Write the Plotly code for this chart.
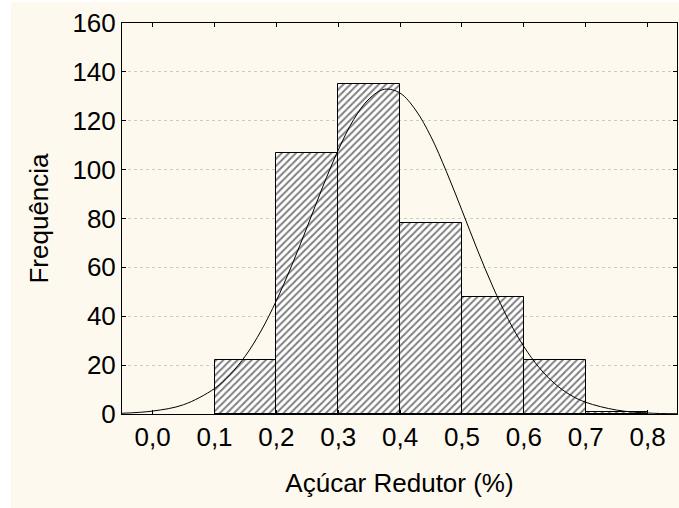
import plotly.graph_objects as go

# Histogram bins (class midpoints) and frequencies
bin_centers = [0.15, 0.25, 0.35, 0.45, 0.55, 0.65, 0.75]
frequencies = [22, 107, 135, 78, 48, 22, 1]
bin_width = 0.1

# Fitted normal curve
curve_x = [-0.05, 0.0, 0.05, 0.10, 0.125, 0.15, 0.175, 0.20, 0.225, 0.25, 0.275,
           0.30, 0.325, 0.35, 0.375, 0.40, 0.425, 0.45, 0.475, 0.50, 0.525,
           0.55, 0.575, 0.60, 0.625, 0.65, 0.675, 0.70, 0.75, 0.80, 0.85]
curve_y = [0.3, 1.2, 3.8, 10.4, 16.1, 23.8, 33.9, 46.4, 60.9, 76.7, 93.0,
           108.0, 120.5, 129.0, 132.9, 131.3, 124.4, 113.4, 99.1, 83.3, 67.1,
           52.0, 38.6, 27.6, 18.9, 12.4, 7.8, 4.8, 1.6, 0.4, 0.1]

x_tickvals = [0.0, 0.1, 0.2, 0.3, 0.4, 0.5, 0.6, 0.7, 0.8]
x_ticktext = ["0,0", "0,1", "0,2", "0,3", "0,4", "0,5", "0,6", "0,7", "0,8"]
y_tickvals = [0, 20, 40, 60, 80, 100, 120, 140, 160]

FONT = "Liberation Sans, Arial, sans-serif"
FS = 26

fig = go.Figure()
fig.add_trace(go.Bar(
    x=bin_centers, y=frequencies, width=bin_width,
    marker=dict(color="white", line=dict(color="black", width=1),
                pattern=dict(shape="/", fgcolor="black", bgcolor="white",
                             size=5, solidity=0.4)),
    showlegend=False, hoverinfo="x+y",
))
fig.add_trace(go.Scatter(
    x=curve_x, y=curve_y, mode="lines",
    line=dict(color="black", width=1, shape="spline"),
    showlegend=False,
))

fig.update_layout(
    width=679, height=508,
    margin=dict(l=122, r=2, t=23, b=94),
    paper_bgcolor="white",
    plot_bgcolor="white",
    bargap=0,
    font=dict(family=FONT, size=FS, color="black"),
    shapes=[dict(type="rect", xref="paper", yref="paper", layer="below",
                 x0=-122/555 + 11/555, x1=1 + 2/555, y0=-94/391, y1=1 + 21/391,
                 fillcolor="#FEF9EE", line=dict(width=0))],
)
fig.update_xaxes(
    range=[-0.0495, 0.8475],
    tickvals=x_tickvals, ticktext=x_ticktext,
    ticks="inside", ticklen=4, tickcolor="black",
    showline=True, linecolor="black", linewidth=1, mirror="ticks",
    showgrid=False, zeroline=False,
    tickfont=dict(size=FS, family=FONT),
    title=dict(text="Açúcar Redutor (%)", font=dict(size=FS, family=FONT), standoff=22),
)
fig.update_yaxes(
    range=[0, 160],
    tickvals=y_tickvals,
    ticks="inside", ticklen=4, tickcolor="black",
    showline=True, linecolor="black", linewidth=1, mirror="ticks",
    showgrid=True, gridcolor="#CCCCCC", griddash="dot", gridwidth=1,
    zeroline=False,
    tickfont=dict(size=FS, family=FONT),
    title=dict(text="Frequência", font=dict(size=FS, family=FONT), standoff=16),
)

fig.write_html("out.html")
